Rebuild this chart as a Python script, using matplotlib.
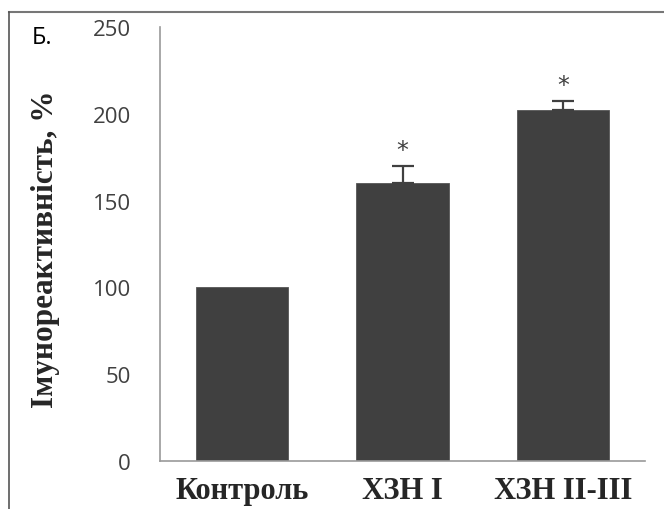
import matplotlib.pyplot as plt
from matplotlib.lines import Line2D

categories = ['Контроль', 'ХЗН I', 'ХЗН II-III']
values = [100, 160, 202]
errors_up = [0, 10, 5.5]
signif = ['', '*', '*']
yticks = [0, 50, 100, 150, 200, 250]

fig = plt.figure(figsize=(6.64, 5.10), dpi=100)
ax = fig.add_axes([160 / 664, 48 / 510, 485 / 664, 434 / 510])

x = list(range(len(categories)))
ax.bar(x, values, width=0.573, color='#404040', edgecolor='#555555', linewidth=0.6)

for xi, v, e, s in zip(x, values, errors_up, signif):
    if e > 0:
        ax.errorbar(xi, v, yerr=[[0], [e]], fmt='none', ecolor='#404040',
                    elinewidth=1.6, capthick=1.6, capsize=8)
    if s:
        ax.text(xi, v + e + 9, s, ha='center', va='center', fontsize=17,
                color='#404040', family='DejaVu Sans')

ax.set_xlim(-0.51, 2.51)
ax.set_ylim(0, 250)
ax.set_yticks(yticks)
ax.set_xticks(x)
ax.set_xticklabels(categories, family='Liberation Serif', fontweight='bold',
                   fontsize=22, color='#262626')
ax.tick_params(axis='x', length=0, pad=11)
ax.tick_params(axis='y', length=0, pad=21, labelsize=16, labelcolor='#404040')
for lab in ax.get_yticklabels():
    lab.set_family('Open Sans')

for side in ['top', 'right']:
    ax.spines[side].set_visible(False)
ax.spines['left'].set_color('#999999')
ax.spines['bottom'].set_color('#999999')
ax.spines['left'].set_linewidth(1.2)
ax.spines['bottom'].set_linewidth(1.2)

fig.text(46 / 664, 1 - 249 / 510, 'Імунореактивність, %', rotation=90,
         ha='center', va='center', family='Liberation Serif', fontweight='bold',
         fontsize=22.5, color='#262626')
fig.text(32 / 664, 1 - 38 / 510, 'Б.', ha='left', va='center', fontsize=17,
         family='Open Sans', color='black')

# frame around the panel (cropped at right and bottom)
fig.add_artist(Line2D([9 / 664, 1.0], [1 - 13 / 510, 1 - 13 / 510],
                      transform=fig.transFigure, color='#777777', linewidth=1.5))
fig.add_artist(Line2D([9 / 664, 9 / 664], [0.0, 1 - 13 / 510],
                      transform=fig.transFigure, color='#555555', linewidth=1.2))

fig.savefig('out.png', dpi=100)
